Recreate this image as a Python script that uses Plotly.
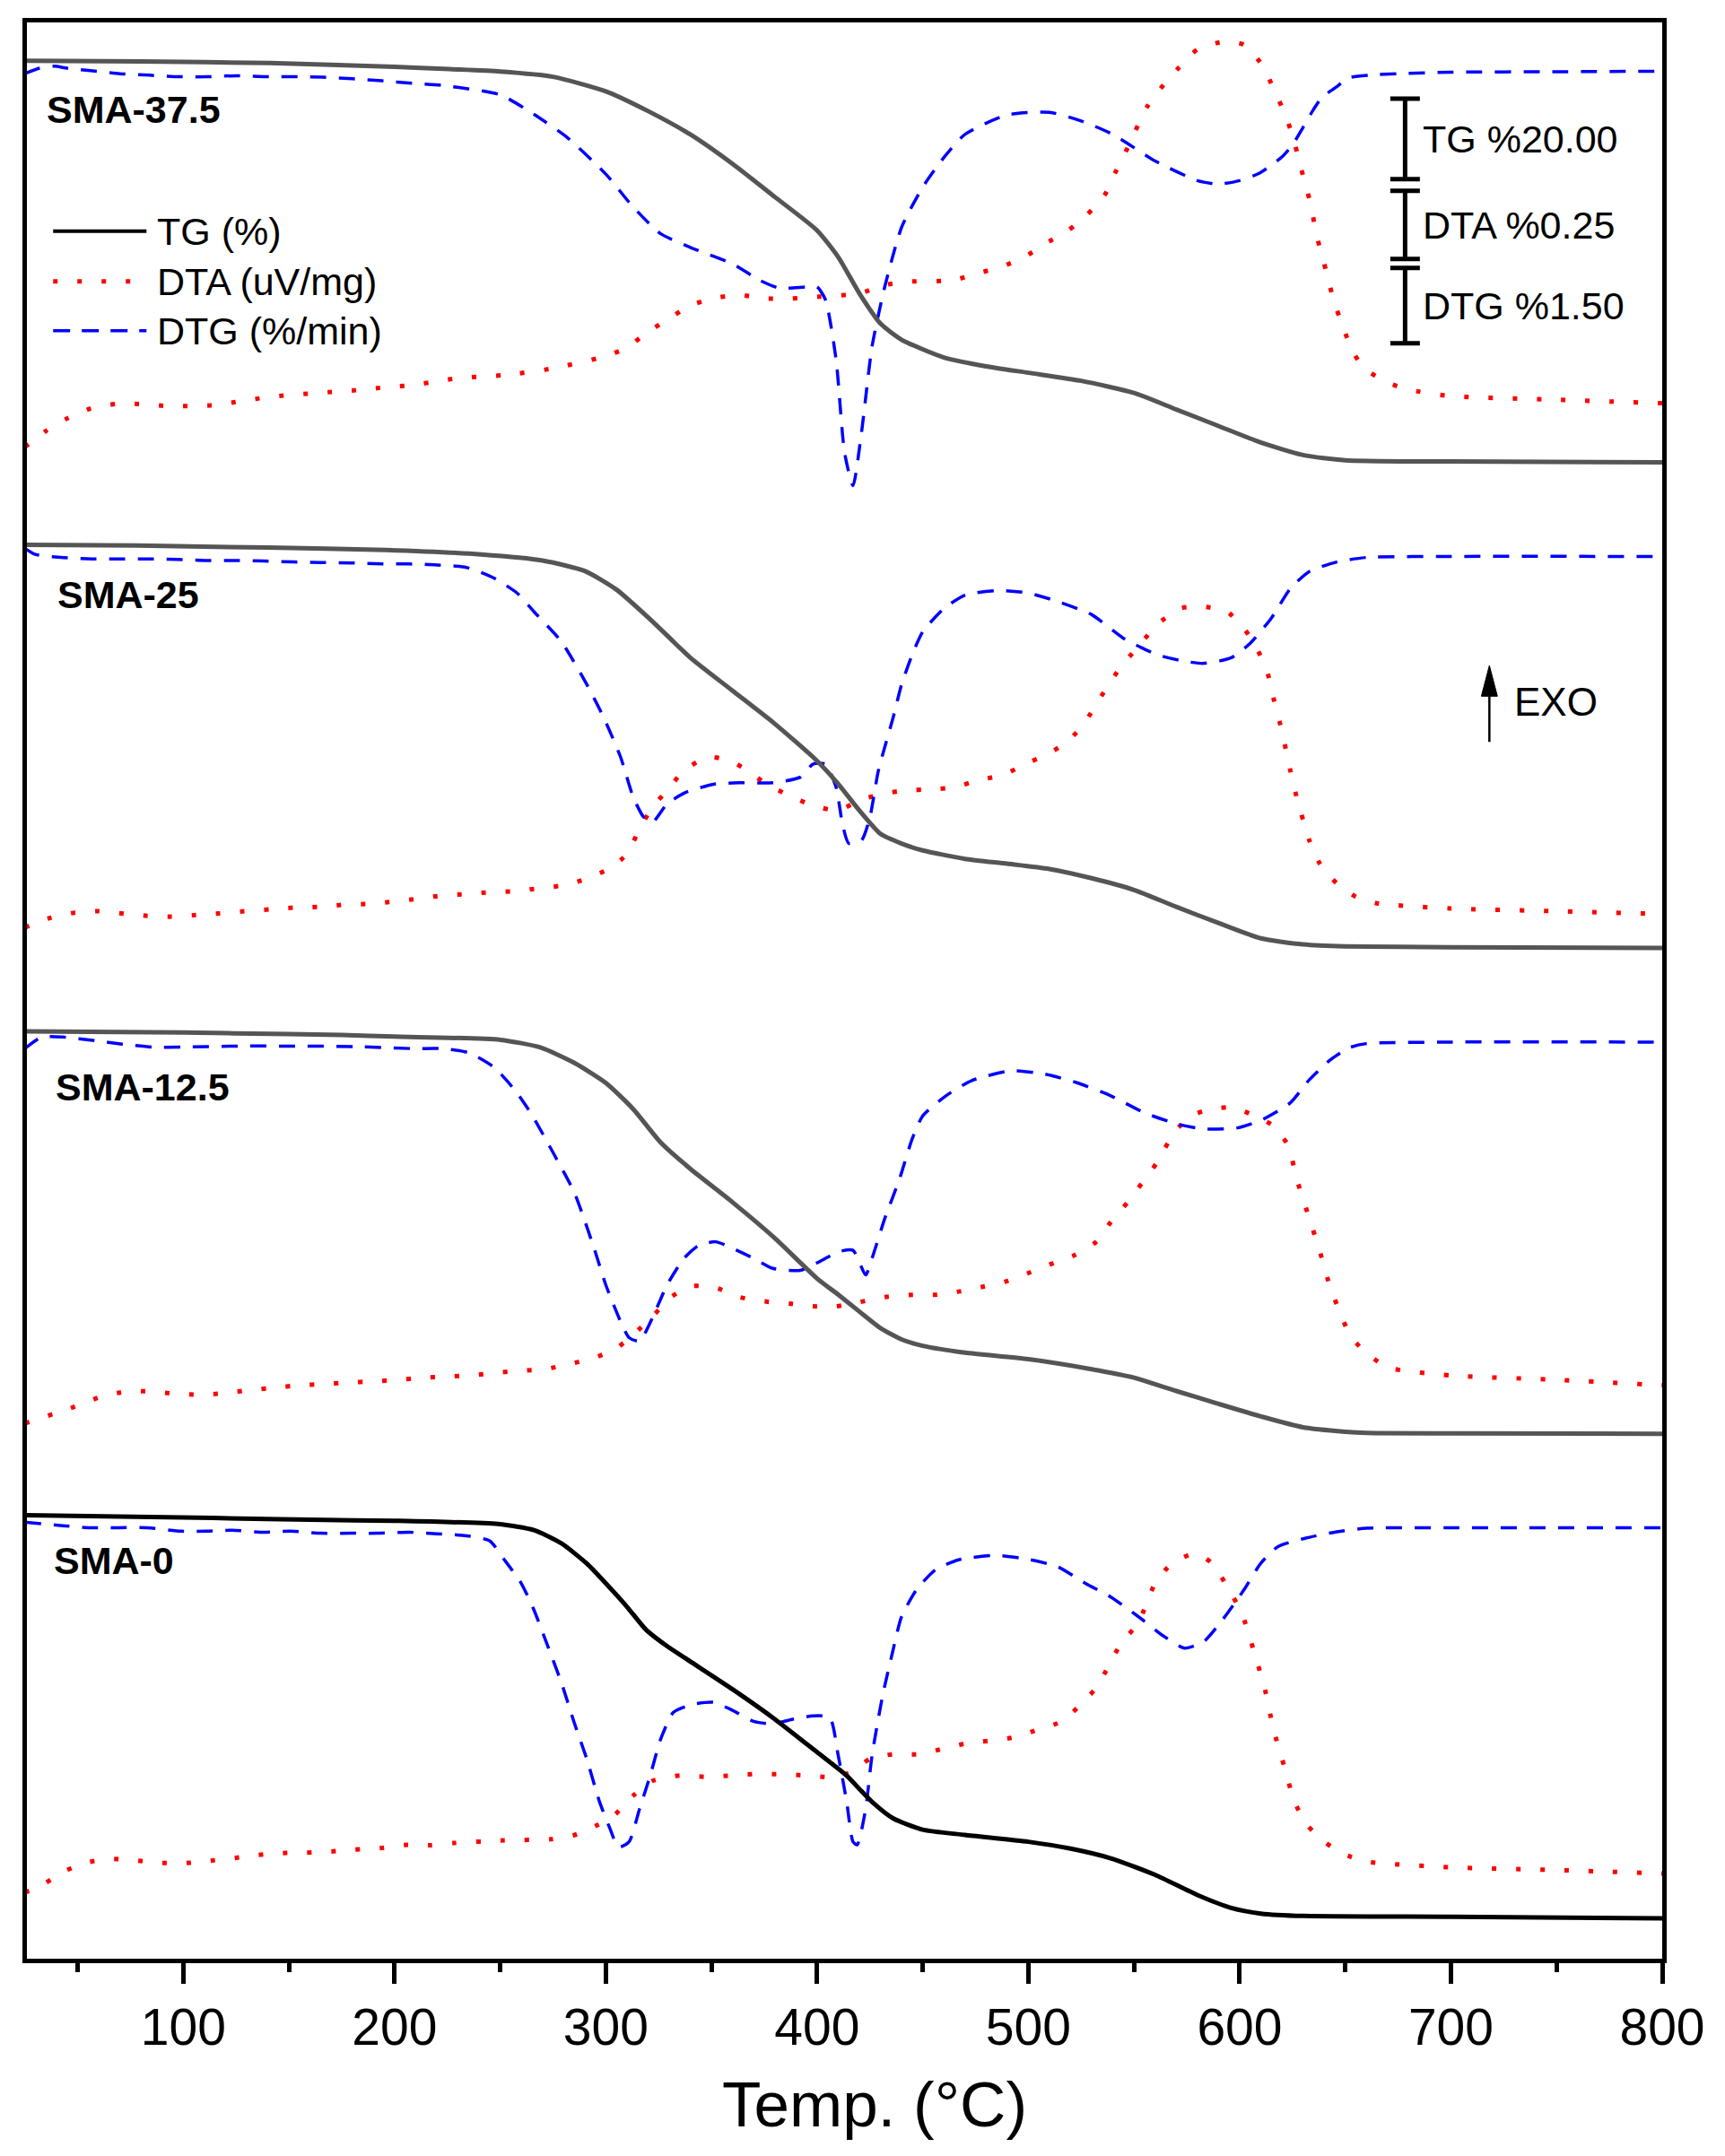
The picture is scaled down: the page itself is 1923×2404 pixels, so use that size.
import plotly.graph_objects as go

# ---- SMA-37.5 ----
t_tg_375 = [25, 80, 141, 200, 226, 250, 275, 300, 320, 340, 360, 380, 400, 410, 420, 430, 440, 450, 460, 480,
            500, 525, 550, 570, 590, 610, 630, 650, 700, 800]
tg_375 = [100, 99.8, 99.4, 98.5, 97.9, 97.3, 96.0, 92.4, 87.5, 81.7, 74.4, 66.2, 57.9, 51.3, 42.3, 34.8, 30.8, 28.4,
          26.4, 24.2, 22.6, 20.6, 17.6, 13.5, 9.4, 5.3, 2.2, 0.9, 0.6, 0.4]
t_dta_375 = [25, 35, 45, 56, 68, 80, 92, 103, 115, 127, 138, 150, 161, 173, 184, 196, 208, 219, 230, 253,
             275, 299, 310, 319, 329, 340, 351, 363, 374, 388, 401, 420, 432, 445, 464, 476, 487, 498, 508, 519,
             528, 536, 541, 547, 556, 564, 571, 580, 593, 602, 611, 616, 621, 625, 628, 631, 634, 636, 639, 642,
             645, 649, 653, 659, 670, 680, 700, 750, 800]
dta_375 = [-0.161, -0.102, -0.056, -0.020, -0.003, -0.003, -0.010, -0.010, -0.007, 0.007,
           0.020, 0.030, 0.036, 0.043, 0.049, 0.059, 0.066, 0.079, 0.092, 0.104,
           0.128, 0.171, 0.204, 0.257, 0.306, 0.359, 0.385, 0.398, 0.385, 0.385,
           0.391, 0.403, 0.434, 0.447, 0.451, 0.477, 0.500, 0.536, 0.586, 0.635,
           0.694, 0.763, 0.845, 0.938, 1.086, 1.169, 1.230, 1.299, 1.328, 1.316,
           1.238, 1.155, 1.070, 0.984, 0.895, 0.806, 0.720, 0.628, 0.543, 0.451,
           0.365, 0.280, 0.197, 0.128, 0.076, 0.050, 0.026, 0.013, 0.0]
t_dtg_375 = [25, 32, 39, 45, 56, 70, 84, 98, 112, 125, 139, 154, 166, 180, 194, 208, 222, 250, 266, 282,
             300, 313, 326, 340, 360, 373, 382, 395, 400, 404, 409, 413, 417, 421, 426, 432, 440, 450, 460, 470,
             490, 510, 525, 540, 560, 580, 590, 600, 609, 620, 625, 630, 635, 639, 646, 651, 661, 676, 700, 750, 800]
dtg_375 = [-0.04, 0.07, 0.11, 0.07, 0.02, -0.04, -0.07, -0.10, -0.10, -0.08,
           -0.10, -0.10, -0.11, -0.14, -0.18, -0.23, -0.27, -0.46, -0.85, -1.32,
           -2.04, -2.70, -3.23, -3.50, -3.83, -4.16, -4.31, -4.29, -4.29, -4.55,
           -5.74, -7.59, -8.25, -7.2, -5.48, -4.29, -3.10, -2.30, -1.71, -1.25,
           -0.86, -0.81, -0.98, -1.25, -1.78, -2.17, -2.24, -2.17, -2.03, -1.70,
           -1.46, -1.11, -0.75, -0.51, -0.30, -0.13, -0.07, -0.04, -0.01, 0.0, 0.01]

# ---- SMA-25 ----
t_tg_25 = [25, 78, 140, 196, 241, 270, 290, 305, 320, 330, 340, 360, 380, 400, 410, 420, 430, 440, 450,
           470, 490, 510, 530, 550, 570, 590, 610, 630, 650, 700, 800]
tg_25 = [100, 99.8, 99.3, 98.7, 97.6, 96.1, 93.5, 88.9, 82.0, 77.0, 72.0, 63.8, 55.6, 46.4, 40.7, 34.1, 28.3,
         25.9, 24.2, 22.1, 20.9, 19.6, 17.3, 14.4, 10.2, 6.2, 2.4, 0.9, 0.4, 0.2, 0.0]
t_dta_25 = [25, 36, 48, 60, 72, 83, 94, 106, 117, 129, 141, 152, 164, 176, 188, 199, 211, 222, 234, 246,
            258, 269, 281, 291, 302, 310, 316, 322, 329, 337, 348, 359, 368, 376, 387, 398, 410, 420, 431, 442,
            454, 465, 476, 489, 498, 509, 519, 527, 533, 539, 546, 554, 561, 572, 583, 594, 602, 608, 613, 616,
            620, 624, 627, 633, 638, 646, 655, 665, 700, 750, 800]
dta_25 = [-0.050, -0.017, 0.004, 0.010, 0.001, -0.007, -0.010, -0.004, 0.002, 0.010,
          0.017, 0.023, 0.026, 0.034, 0.037, 0.045, 0.056, 0.067, 0.073, 0.080,
          0.084, 0.095, 0.106, 0.130, 0.168, 0.220, 0.313, 0.391, 0.454, 0.526,
          0.576, 0.562, 0.521, 0.477, 0.434, 0.398, 0.380, 0.417, 0.441, 0.454,
          0.457, 0.465, 0.490, 0.513, 0.549, 0.586, 0.635, 0.707, 0.780, 0.855,
          0.928, 1.000, 1.063, 1.122, 1.128, 1.110, 1.049, 0.977, 0.891, 0.793,
          0.671, 0.526, 0.428, 0.270, 0.184, 0.112, 0.063, 0.039, 0.020, 0.010, 0.0]
t_dtg_25 = [25, 30, 42, 57, 70, 84, 97, 110, 123, 138, 152, 165, 180, 194, 207, 220, 234, 247, 258, 266,
            279, 291, 299, 307, 313, 318, 322, 329, 338, 351, 363, 379, 392, 398, 404, 409, 412, 415, 421, 425,
            429, 436, 440, 445, 450, 460, 470, 486, 500, 514, 530, 545, 561, 574, 583, 596, 605, 615, 624, 633,
            646, 660, 700, 800]
dtg_25 = [0.16, 0.04, -0.02, -0.05, -0.05, -0.05, -0.06, -0.08, -0.08, -0.09,
          -0.11, -0.12, -0.13, -0.15, -0.15, -0.17, -0.22, -0.43, -0.73, -1.10,
          -1.70, -2.55, -3.21, -4.00, -4.80, -5.20, -5.30, -4.93, -4.70, -4.54,
          -4.51, -4.51, -4.40, -4.14, -4.14, -4.60, -5.33, -5.72, -5.66, -5.20,
          -4.27, -3.21, -2.55, -1.96, -1.50, -1.04, -0.77, -0.68, -0.73, -0.90,
          -1.16, -1.63, -1.96, -2.09, -2.13, -2.02, -1.73, -1.23, -0.64, -0.30,
          -0.11, -0.02, 0.0, 0.0]

# ---- SMA-12.5 ----
t_tg_125 = [25, 100, 150, 175, 200, 250, 269, 285, 300, 313, 326, 340, 360, 380, 400, 410, 420, 430, 440, 450,
            470, 500, 530, 550, 570, 590, 610, 630, 650, 660, 700, 800]
tg_125 = [100, 99.7, 99.3, 99.1, 98.7, 97.9, 96.0, 92.2, 87.2, 80.7, 72.4, 65.9, 57.6, 48.7, 38.7, 34.7, 30.5,
          26.4, 23.6, 22.0, 20.3, 18.7, 16.2, 14.1, 10.8, 7.6, 4.5, 1.8, 0.7, 0.4, 0.3, 0.2]
t_dta_125 = [25, 39, 50, 61, 73, 85, 96, 108, 120, 131, 143, 155, 166, 178, 190, 201, 213, 225, 237, 248,
             259, 271, 282, 294, 304, 313, 323, 330, 340, 351, 363, 376, 387, 398, 409, 420, 432, 445, 456, 467,
             478, 489, 500, 511, 522, 532, 539, 547, 554, 561, 569, 577, 586, 597, 607, 616, 623, 627, 633, 638,
             643, 648, 652, 659, 670, 700, 750, 800]
dta_125 = [-0.140, -0.104, -0.075, -0.042, -0.023, -0.023, -0.031, -0.035, -0.029, -0.018,
           -0.009, 0.000, 0.004, 0.010, 0.014, 0.020, 0.027, 0.032, 0.037, 0.046,
           0.053, 0.059, 0.076, 0.100, 0.130, 0.186, 0.260, 0.319, 0.363, 0.361,
           0.324, 0.307, 0.300, 0.290, 0.290, 0.305, 0.324, 0.332, 0.332, 0.344,
           0.361, 0.380, 0.412, 0.446, 0.478, 0.526, 0.599, 0.672, 0.745, 0.819,
           0.928, 0.989, 1.013, 1.020, 0.989, 0.952, 0.879, 0.758, 0.612, 0.490,
           0.356, 0.259, 0.186, 0.125, 0.066, 0.036, 0.020, 0.0]
t_dtg_125 = [25, 33, 43, 58, 71, 86, 99, 126, 153, 181, 209, 222, 235, 247, 257, 265, 275, 285, 294, 300,
             307, 311, 316, 322, 329, 337, 344, 352, 360, 370, 379, 392, 401, 410, 417, 423, 426, 432, 439, 445,
             450, 461, 473, 492, 508, 523, 539, 555, 571, 583, 599, 611, 624, 633, 643, 652, 660, 700, 800]
dtg_125 = [-0.13, 0.10, 0.10, 0.03, -0.04, -0.10, -0.10, -0.08, -0.08, -0.09,
           -0.13, -0.13, -0.21, -0.50, -0.96, -1.45, -2.20, -2.99, -4.05, -4.84,
           -5.57, -5.89, -5.96, -5.50, -4.84, -4.31, -4.05, -3.98, -4.11, -4.31,
           -4.51, -4.55, -4.38, -4.18, -4.15, -4.64, -4.31, -3.52, -2.73, -1.93,
           -1.47, -1.07, -0.77, -0.57, -0.64, -0.81, -1.07, -1.41, -1.64, -1.73,
           -1.71, -1.54, -1.21, -0.75, -0.35, -0.11, -0.03, 0.0, 0.0]

# ---- SMA-0 ----
t_tg_0 = [25, 114, 181, 200, 249, 266, 279, 291, 300, 310, 319, 329, 340, 360, 380, 400, 414, 420, 426, 436,
          450, 470, 500, 520, 539, 560, 580, 596, 610, 630, 700, 800]
tg_0 = [100, 99.3, 98.7, 98.6, 97.8, 96.3, 93.0, 88.0, 83.1, 77.3, 71.6, 67.5, 63.7, 56.8, 49.4, 41.2, 35.4, 32.1,
        28.9, 24.8, 22.0, 20.7, 19.0, 17.3, 14.9, 10.8, 5.8, 2.6, 1.2, 0.6, 0.4, 0.0]
t_dta_0 = [25, 32, 42, 53, 65, 76, 88, 100, 111, 123, 135, 146, 158, 170, 181, 193, 205, 217, 228, 252,
           274, 285, 296, 304, 313, 322, 335, 348, 359, 370, 382, 395, 406, 416, 425, 436, 448, 459, 470, 481,
           494, 505, 516, 524, 532, 538, 544, 552, 560, 568, 579, 587, 595, 601, 607, 612, 616, 621, 626, 632,
           640, 649, 660, 700, 750, 800]
dta_0 = [-0.069, -0.049, 0.002, 0.038, 0.054, 0.049, 0.040, 0.038, 0.046, 0.056,
         0.068, 0.075, 0.077, 0.081, 0.088, 0.093, 0.105, 0.104, 0.112, 0.122,
         0.126, 0.141, 0.178, 0.214, 0.286, 0.340, 0.360, 0.355, 0.360, 0.365,
         0.365, 0.360, 0.355, 0.372, 0.421, 0.438, 0.438, 0.457, 0.477, 0.487,
         0.501, 0.530, 0.559, 0.615, 0.681, 0.762, 0.847, 0.920, 1.066, 1.139,
         1.175, 1.139, 1.041, 0.956, 0.810, 0.676, 0.530, 0.396, 0.263, 0.178,
         0.117, 0.073, 0.044, 0.023, 0.013, 0.0]
t_dtg_0 = [25, 43, 56, 69, 83, 99, 111, 123, 138, 151, 165, 179, 192, 207, 220, 234, 245, 252, 260, 266,
           272, 279, 285, 291, 297, 302, 306, 311, 316, 321, 326, 332, 341, 351, 360, 370, 379, 388, 398, 406,
           410, 414, 417, 419, 423, 426, 431, 436, 440, 447, 456, 467, 485, 501, 514, 527, 539, 552, 564, 574,
           583, 592, 602, 610, 618, 631, 646, 660, 700, 800]
dtg_0 = [0.11, 0.04, 0.0, 0.0, 0.0, -0.07, -0.07, -0.05, -0.09, -0.07,
         -0.11, -0.11, -0.11, -0.09, -0.12, -0.16, -0.26, -0.64, -1.11, -1.64,
         -2.30, -3.09, -3.88, -4.61, -5.46, -6.0, -6.37, -6.26, -5.60, -4.94,
         -4.21, -3.68, -3.52, -3.48, -3.64, -3.86, -3.91, -3.82, -3.75, -3.78,
         -4.54, -5.46, -6.26, -6.32, -5.60, -4.54, -3.35, -2.43, -1.77, -1.24,
         -0.84, -0.64, -0.55, -0.64, -0.78, -1.11, -1.38, -1.77, -2.16, -2.40,
         -2.27, -1.83, -1.24, -0.71, -0.38, -0.21, -0.08, -0.01, 0.0, 0.0]

# scale bars (value of each bar)
bar_names = ["TG %20.00", "DTA %0.25", "DTG %1.50"]
bar_values = [20.0, 0.25, 1.5]

# ---- stacking / style ----
FONT = "Liberation Sans, Arial, sans-serif"
PX_TG = 4.5     # plot units per %
PX_DTA = 304.0  # plot units per uV/mg
PX_DTG = 56.0   # plot units per %/min
GRAY = "#555555"

# label, tg level at 100 %, dta zero, dtg zero, tg colour, label position
samples = [
    ("SMA-37.5", t_tg_375, tg_375, t_dta_375, dta_375, t_dtg_375, dtg_375, 2120.3, 1738, 2108, GRAY, 34.6, 2066),
    ("SMA-25", t_tg_25, tg_25, t_dta_25, dta_25, t_dtg_25, dtg_25, 1580, 1168, 1567, GRAY, 39.7, 1524),
    ("SMA-12.5", t_tg_125, tg_125, t_dta_125, dta_125, t_dtg_125, dtg_125, 1037, 642, 1025, GRAY, 38.8, 975),
    ("SMA-0", t_tg_0, tg_0, t_dta_0, dta_0, t_dtg_0, dtg_0, 497, 97, 483, "black", 38.0, 446),
]

fig = go.Figure()
annotations = []
shapes = []

for (name, ttg, tg, tdta, dta, tdtg, dtg, tg_top, dta_zero, dtg_zero, tgcol, lx, ly) in samples:
    fig.add_trace(go.Scatter(
        x=tdta, y=[dta_zero + v * PX_DTA for v in dta], mode="lines",
        line=dict(color="#FF0000", width=5, dash="5px,22px", shape="spline", smoothing=0.6),
        showlegend=False, name=name + " DTA"))
    fig.add_trace(go.Scatter(
        x=tdtg, y=[dtg_zero + v * PX_DTG for v in dtg], mode="lines",
        line=dict(color="#0000FF", width=3.5, dash="18px,14px", shape="spline", smoothing=0.6),
        showlegend=False, name=name + " DTG"))
    fig.add_trace(go.Scatter(
        x=ttg, y=[tg_top - (100 - v) * PX_TG for v in tg], mode="lines",
        line=dict(color=tgcol, width=5, shape="spline", smoothing=0.6),
        showlegend=False, name=name + " TG"))
    annotations.append(dict(x=lx, y=ly, xref="x", yref="y", text="<b>" + name + "</b>", showarrow=False,
                            xanchor="left", yanchor="middle", font=dict(family=FONT, size=43, color="black")))

# legend drawn by hand
legend_rows = [("TG (%)", "black", 4, "solid", 1930),
               ("DTA (uV/mg)", "#FF0000", 5, "5px,22px", 1874),
               ("DTG (%/min)", "#0000FF", 3.5, "19px,13px", 1819)]
for text, col, w, dash, yy in legend_rows:
    shapes.append(dict(type="line", xref="x", yref="y", x0=38.4, x1=82.6, y0=yy, y1=yy,
                       line=dict(color=col, width=w, dash=dash)))
    annotations.append(dict(x=86.5, y=yy, xref="x", yref="y", text=text, showarrow=False,
                            xanchor="left", yanchor="middle", font=dict(family=FONT, size=43, color="black")))

# scale bars
bar_x = 678.3
bar_base = [1988, 1899, 1805]
bar_px = [PX_TG, PX_DTA, PX_DTG]
for txt, val, b, px in zip(bar_names, bar_values, bar_base, bar_px):
    top = b + val * px
    shapes.append(dict(type="line", xref="x", yref="y", x0=bar_x, x1=bar_x, y0=b, y1=top,
                       line=dict(color="black", width=5)))
    for yy in (b, top):
        shapes.append(dict(type="line", xref="x", yref="y", x0=bar_x - 7, x1=bar_x + 7, y0=yy, y1=yy,
                           line=dict(color="black", width=5)))
    annotations.append(dict(x=bar_x + 7.5, y=(b + top) / 2, xref="x", yref="y", text=txt, showarrow=False,
                            xanchor="left", yanchor="middle", font=dict(family=FONT, size=43, color="black")))

# EXO arrow
shapes.append(dict(type="line", xref="x", yref="y", x0=718.2, x1=718.2, y0=1360, y1=1412,
                   line=dict(color="black", width=2.5)))
shapes.append(dict(type="path", xref="x", yref="y", path="M 714.4 1411 L 718.2 1445.3 L 722.0 1411 Z",
                   fillcolor="black", line=dict(color="black", width=1)))
annotations.append(dict(x=728.9, y=1405, xref="x", yref="y", text="EXO", showarrow=False,
                        xanchor="left", yanchor="middle", font=dict(family=FONT, size=44, color="black")))

# axis title
annotations.append(dict(x=0.5184, y=-0.0754, xref="paper", yref="paper", text="Temp. (°C)", showarrow=False,
                        xanchor="center", yanchor="middle", font=dict(family=FONT, size=71, color="black")))

# the page body adds an 8 px margin, so the figure is 16 px smaller and margins shifted by 8
fig.update_layout(
    width=1907, height=2388,
    margin=dict(l=22, r=62, t=15, b=212),
    paper_bgcolor="white", plot_bgcolor="white",
    showlegend=False,
    font=dict(family=FONT, color="black"),
    annotations=annotations, shapes=shapes,
)
fig.update_xaxes(range=[26, 800], tick0=0, dtick=100, ticks="outside", ticklen=23, tickwidth=5,
                 tickcolor="black", showline=True, linewidth=5, linecolor="black", mirror=True,
                 showgrid=False, zeroline=False, tickfont=dict(family=FONT, size=57, color="black"),
                 minor=dict(dtick=50, tick0=0, ticks="outside", ticklen=10, tickwidth=5, tickcolor="black"))
fig.update_yaxes(range=[2, 2163], showticklabels=False, ticks="", showline=True, linewidth=5,
                 linecolor="black", mirror=True, showgrid=False, zeroline=False)

fig.write_html("out.html")
